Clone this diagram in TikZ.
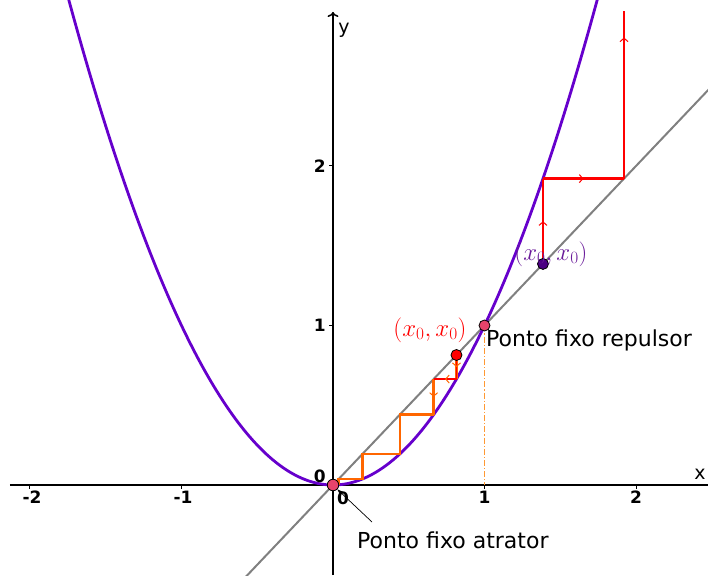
\documentclass[tikz,border=0pt]{standalone}
\usepackage[no-math]{fontspec}
\setmainfont{DejaVu Sans}
\usetikzlibrary{arrows.meta,decorations.markings}
\definecolor{parab}{HTML}{6600CC}
\definecolor{cobor}{HTML}{FF6600}
\definecolor{dashor}{HTML}{FF9933}
\definecolor{ptpink}{HTML}{E8436B}
\definecolor{ptpurple}{HTML}{4B0082}
\definecolor{labpurple}{HTML}{6A1B9A}
\begin{document}
\begin{tikzpicture}[x=151.5pt,y=159.5pt,
  every node/.style={inner sep=0pt},
  midarrow/.style={postaction={decorate,decoration={markings,mark=at position #1 with {\arrow[line width=1pt]{Straight Barb[length=3.5pt,width=8pt]}}}}},
  midarrow/.default=0.5,
  axis/.style={line width=1.5pt,black},
  tick/.style={line width=1pt,black},
  ticklab/.style={font=\fontsize{17}{19}\selectfont\bfseries},
  pt/.style={circle,draw=black,line width=0.8pt,minimum size=11.5pt},
  orstep/.style={cobor,line width=2.6pt},
  rdstep/.style={red,line width=2.6pt},
  annot/.style={font=\fontsize{22}{25}\selectfont},
  mathlab/.style={font=\fontsize{24}{28}\selectfont}
 ]
\useasboundingbox (-333pt,-90pt) rectangle (375pt,485pt);
\def\aa{0.815}\def\ab{0.6642}\def\ac{0.4412}\def\ad{0.1946}\def\ae{0.0379}\def\af{0.0014}
\def\ba{1.386}\def\bb{1.921}
\begin{scope}
\clip (-333pt,-90pt) rectangle (375pt,485pt);
% axes
\draw[axis] (-323pt,0) -- (375pt,0);
\draw[axis,-{To[length=5pt,width=11pt]}] (0,-90pt) -- (0,473pt);
\foreach \t in {-2,-1,1,2} \draw[tick] (\t,0) -- ++(0,-4pt);
\foreach \t in {1,2} \draw[tick] (0,\t) -- ++(-4pt,0);
% dash-dot
\coordinate (F0) at (1,0);
\draw[dashor,line width=1.2pt,dash pattern=on 6pt off 2pt on 1.2pt off 2pt] (1,1) -- (F0);
% y = x
\draw[gray,line width=2pt] (-0.6,-0.6) -- (2.5,2.5);
% parabola
\draw[parab,line width=2.8pt,domain=-1.8:1.8,samples=120,smooth] plot (\x,{\x*\x});
% orange cobweb
\draw[orstep] (\aa,\aa) -- (\aa,\ab);
\draw[orstep] (\aa,\ab) -- (\ab,\ab);
\draw[orstep] (\ab,\ab) -- (\ab,\ac);
\draw[orstep,line join=miter] (\ab,\ac) -- (\ac,\ac) -- (\ac,\ad) -- (\ad,\ad) -- (\ad,\ae) -- (\ae,\ae) -- (\ae,\af);
\draw[red,line width=1.6pt] (\aa,\aa) -- (\aa,\ab) -- (\ab,\ab);
\path[color=cobor,midarrow] (\aa,\aa) -- (\aa,\ab);
\path[color=cobor,midarrow] (\aa,\ab) -- (\ab,\ab);
\path[color=cobor,midarrow] (\ab,\ab) -- (\ab,\ac);
% red cobweb
\draw[rdstep,midarrow] (\ba,\ba) -- (\ba,\bb);
\draw[rdstep,midarrow] (\ba,\bb) -- (\bb,\bb);
\coordinate (Rtop) at (\bb,474pt);
\draw[rdstep,midarrow=0.842] (\bb,\bb) -- (Rtop);
\end{scope}
% tick labels
\node[ticklab] (lxm2) at (-301pt,-12pt) {-2};
\node[ticklab] (lxm1) at (-150pt,-12pt) {-1};
\node[ticklab] (lx0) at (10pt,-13pt) {0};
\node[ticklab] (lx1) at (1,-12pt) {1};
\node[ticklab] (lx2) at (2,-12pt) {2};
\node[ticklab,anchor=east] (ly0) at (-7pt,9pt) {0};
\node[ticklab,anchor=east] (ly1) at (-7pt,1) {1};
\node[ticklab,anchor=east] (ly2) at (-7pt,2) {2};
\node[font=\fontsize{19}{22}\selectfont] (ylab) at (11pt,455pt) {y};
\node[font=\fontsize{19}{22}\selectfont] (xlab) at (367pt,11pt) {x};
% points
\node[pt,fill=ptpink] (O) at (0,0) {};
\node[pt,fill=ptpink,minimum size=11pt] (F) at (1,1) {};
\node[pt,fill=red,minimum size=11pt] (A) at (\aa,\aa) {};
\node[pt,fill=ptpurple,minimum size=11pt] (B) at (\ba,\ba) {};
% labels
\node[mathlab,text=red] (Alab) at (97pt,155pt) {$(x_0,x_0)$};
\node[mathlab,text=labpurple] (Blab) at (218pt,231pt) {$(x_0,x_0)$};
\node[annot,anchor=west] (rep) at (153pt,145pt) {Ponto fixo repulsor};
\node[annot,anchor=west] (atr) at (24pt,-55pt) {Ponto fixo atrator};
\coordinate (lead) at (39pt,-37pt);
\draw[black,line width=0.7pt,-{Stealth[length=7pt,width=5pt]}] (lead) -- (O.south east);
\end{tikzpicture}
\end{document}
